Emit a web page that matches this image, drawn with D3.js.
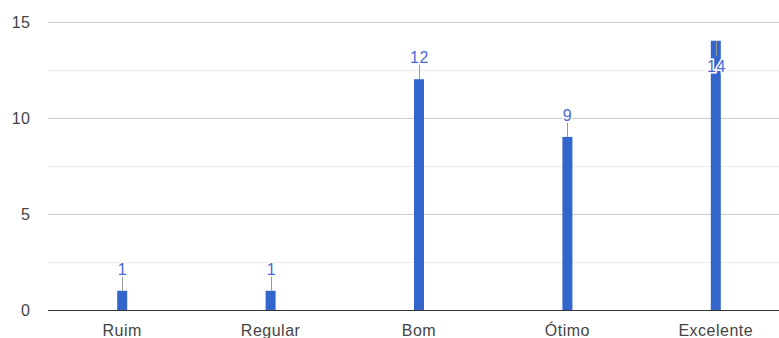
<!DOCTYPE html>
<html><head><meta charset="utf-8">
<script src="https://cdn.jsdelivr.net/npm/d3@7"></script>
<style>body{margin:0;background:#fff}svg{display:block}</style>
</head><body>
<script>
const categories = ["Ruim", "Regular", "Bom", "Ótimo", "Excelente"];
const values = [1, 1, 12, 9, 14];
const majorTicks = [0, 5, 10, 15];
const minorTicks = [2.5, 7.5, 12.5];

(function () {
const W = 779, H = 338;
const left = 48, plotRight = 779, bandRight = 790, plotTop = 21.5, bottom = 310;
const svg = d3.select("body").append("svg").attr("width", W).attr("height", H);
const font = "'Liberation Sans', Arial, sans-serif";
const fs = 16, ls = 0.5;

const x = d3.scaleBand().domain(categories).range([left, bandRight]);
const y = d3.scaleLinear().domain([0, 15]).range([bottom, plotTop]);

svg.selectAll("line.minor").data(minorTicks).join("line")
  .attr("x1", left).attr("x2", plotRight)
  .attr("y1", d => Math.round(y(d)) + 0.5).attr("y2", d => Math.round(y(d)) + 0.5)
  .attr("stroke", "#ebebeb");
svg.selectAll("line.major").data(majorTicks.filter(d => d > 0)).join("line")
  .attr("x1", left).attr("x2", plotRight)
  .attr("y1", d => Math.round(y(d)) + 0.5).attr("y2", d => Math.round(y(d)) + 0.5)
  .attr("stroke", "#cccccc");

svg.selectAll("text.ytick").data(majorTicks).join("text")
  .attr("x", 30.5).attr("y", d => y(d) + 6)
  .attr("text-anchor", "end").attr("font-family", font).attr("font-size", fs)
  .attr("letter-spacing", ls).attr("fill", "#444").text(d => d);

const bw = 10;
svg.selectAll("rect.bar").data(values).join("rect")
  .attr("x", (d, i) => x(categories[i]) + x.bandwidth() / 2 - bw / 2)
  .attr("width", bw)
  .attr("y", d => y(d))
  .attr("height", d => bottom - y(d))
  .attr("fill", "#3366cc");

svg.append("line").attr("x1", left).attr("x2", plotRight)
  .attr("y1", bottom + 0.5).attr("y2", bottom + 0.5).attr("stroke", "#333");

const g = svg.selectAll("g.ann").data(values).join("g");
g.each(function(d, i) {
  const cx = Math.round(x(categories[i]) + x.bandwidth() / 2);
  const yt = y(d);
  const sel = d3.select(this);
  const below = yt < 50;
  sel.append("line").attr("x1", cx + 0.5).attr("x2", cx + 0.5)
    .attr("y1", yt).attr("y2", below ? yt + 15 : yt - 15).attr("stroke", "#999");
  sel.append("text").attr("x", cx + 0.5).attr("y", below ? yt + 31.5 : yt - 16)
    .attr("text-anchor", "middle").attr("font-family", font).attr("font-size", fs)
    .attr("letter-spacing", ls)
    .attr("fill", "#4a6ad4").attr("stroke", "#fff").attr("stroke-width", 3)
    .attr("paint-order", "stroke").text(d);
});

svg.selectAll("text.xtick").data(categories).join("text")
  .attr("x", d => x(d) + x.bandwidth() / 2).attr("y", 336)
  .attr("text-anchor", "middle").attr("font-family", font).attr("font-size", fs)
  .attr("letter-spacing", ls).attr("fill", "#444").text(d => d);
})();
</script>
</body></html>
